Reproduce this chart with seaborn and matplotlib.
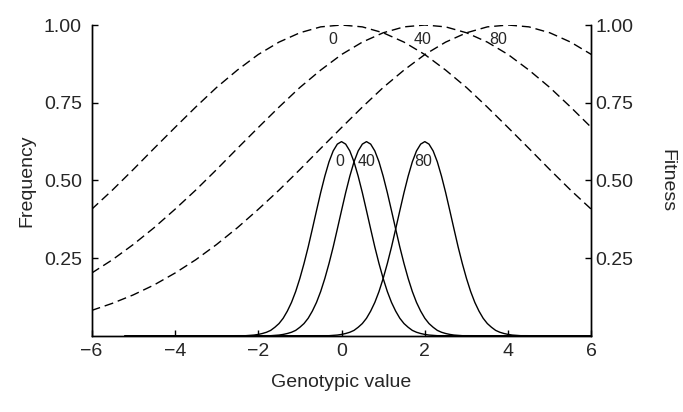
import numpy as np
import pandas as pd
import matplotlib
matplotlib.use("Agg")
import matplotlib.pyplot as plt
import seaborn as sns

sns.set_theme(style="ticks")
plt.rcParams['font.family'] = ['Liberation Sans', 'DejaVu Sans']

# fitness curves (dashed), read at every 0.5 on the genotypic axis
fit_x = [-6.0, -5.5, -5.0, -4.5, -4.0, -3.5, -3.0, -2.5, -2.0, -1.5, -1.0, -0.5, 0.0,
         0.5, 1.0, 1.5, 2.0, 2.5, 3.0, 3.5, 4.0, 4.5, 5.0, 5.5, 6.0]
fit_0 = [0.407, 0.469, 0.535, 0.603, 0.670, 0.736, 0.799, 0.855, 0.905, 0.945, 0.975, 0.994, 1.000,
         0.994, 0.975, 0.945, 0.905, 0.855, 0.799, 0.736, 0.670, 0.603, 0.535, 0.469, 0.407]
fit_40 = [0.202, 0.245, 0.294, 0.348, 0.407, 0.469, 0.535, 0.603, 0.670, 0.736, 0.799, 0.855, 0.905,
          0.945, 0.975, 0.994, 1.000, 0.994, 0.975, 0.945, 0.905, 0.855, 0.799, 0.736, 0.670]
fit_80 = [0.082, 0.105, 0.132, 0.164, 0.202, 0.245, 0.294, 0.348, 0.407, 0.469, 0.535, 0.603, 0.670,
          0.736, 0.799, 0.855, 0.905, 0.945, 0.975, 0.994, 1.000, 0.994, 0.975, 0.945, 0.905]

# frequency curves (solid): same shape, shifted to the mean of each generation
freq_means = [0.0, 0.6, 2.0]
freq_offset = [-2.4, -2.3, -2.2, -2.1, -2.0, -1.9, -1.8, -1.7, -1.6, -1.5, -1.4, -1.3, -1.2,
               -1.1, -1.0, -0.9, -0.8, -0.7, -0.6, -0.5, -0.4, -0.3, -0.2, -0.1, 0.0,
               0.1, 0.2, 0.3, 0.4, 0.5, 0.6, 0.7, 0.8, 0.9, 1.0, 1.1, 1.2,
               1.3, 1.4, 1.5, 1.6, 1.7, 1.8, 1.9, 2.0, 2.1, 2.2, 2.3, 2.4]
freq_shape = [0.001, 0.001, 0.002, 0.003, 0.005, 0.008, 0.012, 0.018, 0.028, 0.040, 0.057, 0.080, 0.108,
              0.143, 0.185, 0.233, 0.286, 0.344, 0.403, 0.461, 0.514, 0.560, 0.595, 0.617, 0.625,
              0.617, 0.595, 0.560, 0.514, 0.461, 0.403, 0.344, 0.286, 0.233, 0.185, 0.143, 0.108,
              0.080, 0.057, 0.040, 0.028, 0.018, 0.012, 0.008, 0.005, 0.003, 0.002, 0.001, 0.001]
freq_start, freq_end = -5.2, 6.0

generations = ['0', '40', '80']
fit_label_x = [-0.2, 1.95, 3.75]
freq_label_x = [-0.05, 0.6, 1.95]

fig = plt.figure(figsize=(6.83, 4.12), dpi=100)
ax = fig.add_axes([0.134, 0.1845, 0.732, 0.7548])

for ys in [fit_0, fit_40, fit_80]:
    sns.lineplot(x=fit_x, y=ys, ax=ax, color='black', linewidth=1.0,
                 linestyle=(0, (6.5, 3.5)), sort=False)

for m in freq_means:
    xs = [freq_start] + [m + d for d in freq_offset] + [freq_end]
    ys = [0.0] + freq_shape + [0.0]
    sns.lineplot(x=xs, y=ys, ax=ax, color='black', linewidth=1.0, sort=False,
                 clip_on=False)

for g, xl in zip(generations, fit_label_x):
    ax.text(xl, 0.955, g, ha='center', va='center', fontsize=11.5)
for g, xl in zip(generations, freq_label_x):
    ax.text(xl, 0.56, g, ha='center', va='center', fontsize=11.5)

ax.set_xlim(-6, 6)
ax.set_ylim(0, 1)
ax.set_xticks([-6, -4, -2, 0, 2, 4, 6])
ax.set_yticks([0.25, 0.5, 0.75, 1.0])
ax.set_yticklabels(['0.25', '0.50', '0.75', '1.00'])
ax.set_xlabel('Genotypic value', fontsize=14, labelpad=10)
ax.set_ylabel('Frequency', fontsize=14, labelpad=6)
ax.tick_params(direction='in', length=4, width=1, labelsize=14, color='black')
ax.tick_params(axis='x', pad=5)
ax.tick_params(axis='y', pad=7)

ax2 = ax.twinx()
ax2.set_ylim(0, 1)
ax2.set_yticks([0.25, 0.5, 0.75, 1.0])
ax2.set_yticklabels(['0.25', '0.50', '0.75', '1.00'])
ax2.tick_params(direction='in', length=4, width=1, labelsize=14, pad=3, color='black')
ax2.set_ylabel('Fitness', fontsize=14, rotation=270, labelpad=30)

for a in [ax, ax2]:
    a.spines['top'].set_visible(False)
    for s in ['left', 'right', 'bottom']:
        a.spines[s].set_linewidth(1.0)
        a.spines[s].set_color('black')

fig.savefig('out.png', dpi=100)
